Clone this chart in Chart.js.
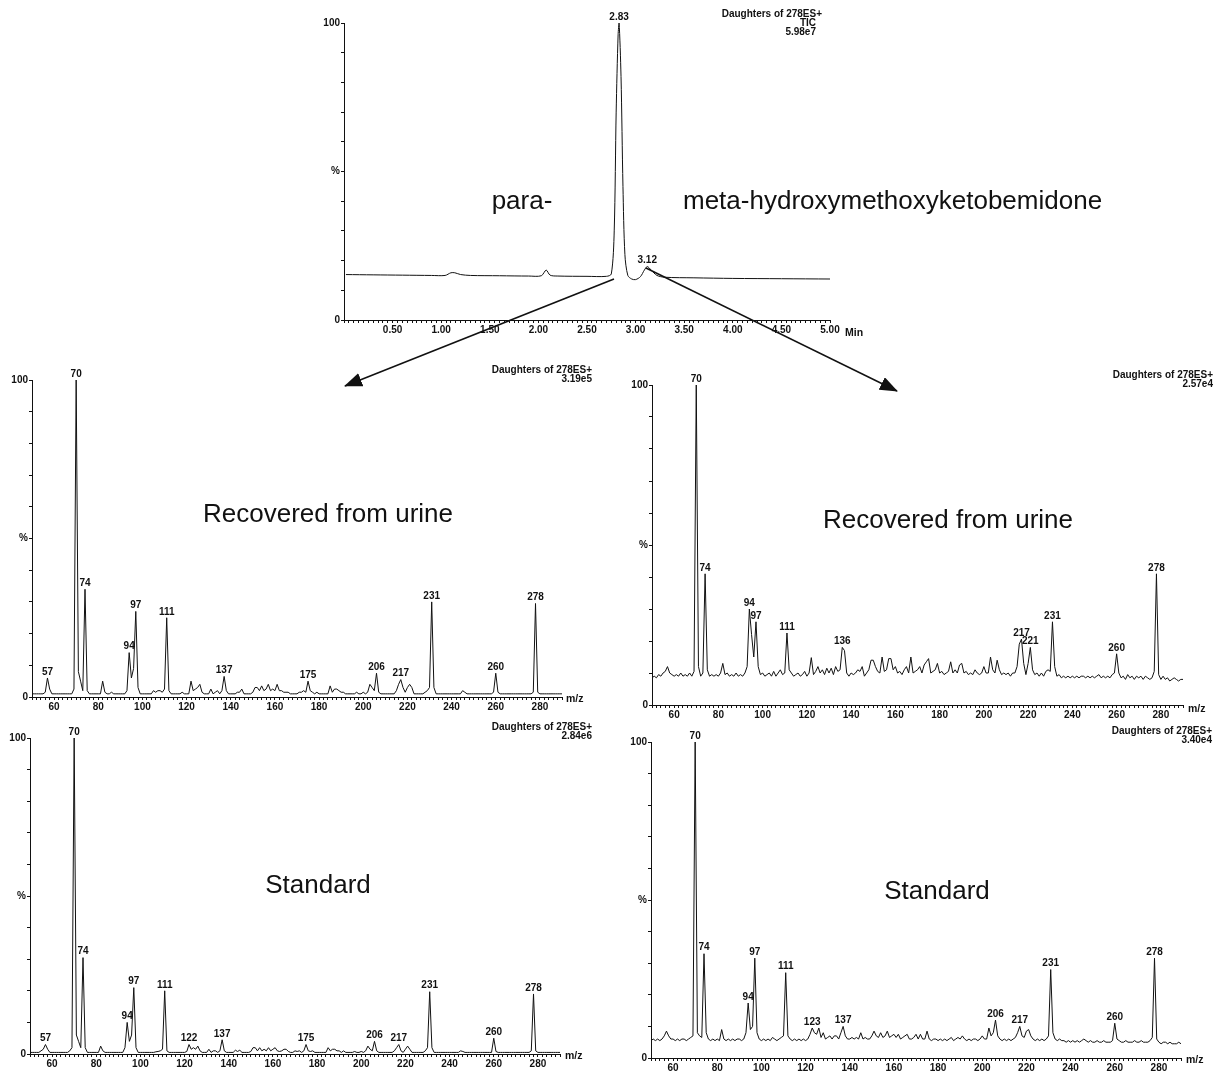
<!DOCTYPE html>
<html>
<head>
<meta charset="utf-8">
<script src="https://cdn.jsdelivr.net/npm/chart.js@4.4.1/dist/chart.umd.min.js"></script>
<style>
  body { margin: 0; background: #fff; width: 1214px; height: 1079px; position: relative; overflow: hidden;
         font-family: 'Liberation Sans', Arial, sans-serif; color: #111; }
  canvas { position: absolute; }
  .hdr { position: absolute; text-align: right; font: bold 10px/9.2px 'Liberation Sans Narrow', 'Liberation Sans', Arial, sans-serif; white-space: nowrap; }
  .hdr span { display: block; padding-right: 6px; }
  .big { position: absolute; font-size: 26px; white-space: nowrap; line-height: 1; }
  .unit { position: absolute; font: bold 10.5px 'Liberation Sans Narrow', 'Liberation Sans', Arial, sans-serif; }
  svg { position: absolute; left: 0; top: 0; }
</style>
</head>
<body>

<canvas id="tic"></canvas>
<canvas id="urinePara"></canvas>
<canvas id="urineMeta"></canvas>
<canvas id="stdPara"></canvas>
<canvas id="stdMeta"></canvas>

<div class="hdr" style="right:392px;top:9px">Daughters of 278ES+<span>TIC</span><span>5.98e7</span></div>
<div class="hdr" style="right:622px;top:365px">Daughters of 278ES+<br>3.19e5</div>
<div class="hdr" style="right:1px;top:370px">Daughters of 278ES+<br>2.57e4</div>
<div class="hdr" style="right:622px;top:722px">Daughters of 278ES+<br>2.84e6</div>
<div class="hdr" style="right:2px;top:726px">Daughters of 278ES+<br>3.40e4</div>

<div class="big" style="left:522px;top:200px;transform:translate(-50%,-50%)">para-</div>
<div class="big" style="left:683px;top:200px;transform:translateY(-50%)">meta-hydroxymethoxyketobemidone</div>
<div class="big" style="left:328px;top:513px;transform:translate(-50%,-50%)">Recovered from urine</div>
<div class="big" style="left:948px;top:519px;transform:translate(-50%,-50%)">Recovered from urine</div>
<div class="big" style="left:318px;top:884px;transform:translate(-50%,-50%)">Standard</div>
<div class="big" style="left:937px;top:890px;transform:translate(-50%,-50%)">Standard</div>

<div class="unit" style="left:845px;top:326px">Min</div>
<div class="unit" style="left:566px;top:692px">m/z</div>
<div class="unit" style="left:1188px;top:702px">m/z</div>
<div class="unit" style="left:565px;top:1049px">m/z</div>
<div class="unit" style="left:1186px;top:1053px">m/z</div>

<svg width="1214" height="1079">
  <defs>
    <marker id="ah" markerUnits="userSpaceOnUse" markerWidth="18" markerHeight="14" refX="17" refY="7" orient="auto">
      <path d="M0,0 L18,7 L0,14 z" fill="#111"/>
    </marker>
  </defs>
  <line x1="614" y1="279" x2="345" y2="386" stroke="#111" stroke-width="1.6" marker-end="url(#ah)"/>
  <line x1="646" y1="268" x2="897" y2="391" stroke="#111" stroke-width="1.6" marker-end="url(#ah)"/>
</svg>

<script>
// total ion chromatogram (time in min, % intensity)
const ticTime = [0.02, 0.3, 0.6, 0.9, 1.04, 1.1, 1.14, 1.2, 1.3, 1.6, 1.9, 2.03, 2.08, 2.12, 2.2, 2.5, 2.7, 2.75, 2.78, 2.8, 2.82, 2.83, 2.85, 2.87, 2.89, 2.92, 2.96, 3.0, 3.05, 3.09, 3.12, 3.16, 3.22, 3.3, 3.6, 4.0, 4.5, 5.0];
const ticInt  = [15.3, 15.2, 15.1, 15.0, 15.0, 15.9, 15.9, 15.3, 15.0, 14.9, 14.8, 14.9, 16.8, 15.1, 14.8, 14.7, 14.7, 15.5, 30, 70, 96, 100, 82, 45, 22, 15, 13.8, 13.6, 14.6, 16.8, 18, 16.8, 15.0, 14.4, 14.2, 14.0, 13.9, 13.8];
const ticPeaks = [2.83, 3.12];
const timeLabels = ['0.50', '1.00', '1.50', '2.00', '2.50', '3.00', '3.50', '4.00', '4.50', '5.00'];

// product ion spectra, % intensity for m/z 50..290 (one value per m/z)
const mzFirst = 50;
const mzLabels = [60, 80, 100, 120, 140, 160, 180, 200, 220, 240, 260, 280];

const urinePara = [
  1, 1, 1, 1, 1, 1, 1.5, 6, 2.5, 1,            // 50
  1, 1, 1, 1, 1, 1, 1, 1, 1, 2.5,              // 60
  100, 8, 5, 2, 34, 2, 1, 1, 1, 1,             // 70
  1, 1, 5, 1.5, 1, 1, 1.5, 1, 1, 1,            // 80
  1, 1, 1, 2, 14, 6, 9, 27, 3, 1,              // 90
  1, 1, 1, 1, 1, 2, 1.5, 2, 2, 1.5,            // 100
  2.5, 25, 2, 1, 1, 1, 1, 1, 1.5, 1,           // 110
  1, 1, 5, 2, 2.5, 3, 4, 1.5, 1, 1,            // 120
  1, 2.5, 1, 1.5, 2, 1, 2, 6.5, 2, 1,          // 130
  1, 1, 1, 1.5, 1.5, 2.5, 1, 1, 1, 1,          // 140
  1.5, 3, 3, 2, 3.5, 2, 2.5, 4, 2, 2.5,        // 150
  2, 4, 2, 2, 1.5, 1.5, 1.5, 1, 1, 1,          // 160
  1, 1.5, 1.5, 2, 1.5, 5, 2, 1.5, 1, 1.5,      // 170
  1, 1, 1, 1, 1, 3.5, 1.5, 2.5, 2.5, 2,        // 180
  1.5, 1.5, 1, 1, 1, 1, 1, 1.5, 1, 1,          // 190
  1.5, 1, 1.5, 4, 3, 2, 7.5, 1.5, 1, 1,        // 200
  1, 1, 1, 1, 1, 2, 4, 5.5, 3, 1.5,            // 210
  3, 4, 3, 1, 1, 1, 1, 1, 1.5, 2,              // 220
  3, 30, 3, 1, 1, 1, 1, 1, 1, 1,               // 230
  1, 1, 1, 1, 1, 2, 1.5, 1, 1, 1,              // 240
  1, 1, 1, 1, 1, 1, 1, 1, 1, 1.5,              // 250
  7.5, 1.5, 1, 1, 1, 1, 1, 1, 1, 1,            // 260
  1, 1, 1, 1, 1, 1, 1, 1.5, 29.5, 1.5,         // 270
  1, 1, 1, 1, 1, 1, 1, 1, 1, 1,                // 280
  1                                            // 290
];
const urineMeta = [
  8.5, 9, 8.5, 9.5, 9, 10, 10.5, 12, 10, 9.5,
  9, 9.5, 9, 10, 9, 9.5, 9, 10, 9, 10.5,
  100, 12, 9, 10, 41, 11, 9, 9.5, 9, 9.5,
  9, 10, 13, 9.5, 10, 9, 9.5, 9, 10, 9,
  9.5, 9, 10, 12, 30, 22, 15, 26, 12, 9.5,
  10, 9, 9.5, 10, 9, 10.5, 9, 10, 11, 9.5,
  10, 22.5, 11, 10, 9, 9.5, 10, 9, 9.5, 10.5,
  9, 10, 14.8, 9.5, 10.5, 12, 10, 11, 9.5, 11.5,
  10, 11.5, 9.5, 12, 10.5, 11, 18, 17, 10, 9,
  10, 9.5, 10, 11, 10.5, 12, 9, 10, 11, 14,
  14, 12, 10.5, 10, 15, 10.5, 11, 14.5, 14.5, 11,
  12, 10, 10.5, 9.5, 11, 12, 10, 15, 10, 10.5,
  11, 12, 10, 12.5, 13.5, 14.5, 10, 10.5, 11, 13,
  10, 10.5, 9.5, 10, 10.5, 13.5, 10, 11, 10, 12.5,
  13, 10, 10.5, 9.5, 10, 9.5, 11, 10, 9.5, 10,
  12, 10, 10, 15, 11, 10, 14, 11, 9.5, 10,
  9.5, 10, 9, 10, 10, 12, 19, 20.6, 13, 9.5,
  13, 18, 11, 9.5, 10, 9, 10, 9, 10.5, 11,
  10.5, 26, 12, 9, 9.5, 8.5, 9, 8.5, 9, 8.5,
  9, 8.5, 9, 8.5, 9, 9, 8.5, 9, 8.5, 9,
  8.5, 9, 9.5, 8.5, 9, 8.5, 9, 8.5, 9.5, 10,
  16, 10, 8.5, 9, 8, 9.5, 8.5, 9, 8, 9,
  8.5, 9, 8, 9, 8.5, 8, 8.5, 10.5, 41, 9.5,
  8, 9, 8, 8.5, 7.5, 8, 8.5, 8, 7.5, 8,
  8
];
const stdPara = [
  0.5, 0.5, 0.5, 0.5, 0.5, 1, 1.5, 3, 1.5, 0.5,
  0.5, 0.5, 0.5, 0.5, 0.5, 0.5, 0.5, 0.5, 1, 2,
  100, 6, 4, 2, 30.5, 2, 0.5, 0.5, 0.5, 0.5,
  0.5, 0.5, 2.5, 1, 0.5, 0.5, 0.5, 0.5, 0.5, 0.5,
  0.5, 0.5, 0.5, 2, 10, 4, 6, 21, 2, 0.5,
  0.5, 0.5, 0.5, 0.5, 0.5, 0.5, 0.5, 0.7, 0.8, 1,
  1.5, 20, 1, 0.5, 0.5, 0.5, 0.5, 0.5, 0.5, 0.5,
  0.5, 0.8, 3, 1.5, 2, 1.5, 2.5, 1, 0.5, 0.5,
  0.5, 1.5, 0.5, 1, 1, 0.5, 1, 4.5, 1, 0.5,
  0.5, 0.5, 0.5, 1.2, 0.8, 1.2, 0.5, 0.5, 0.5, 0.5,
  0.8, 2, 2, 1, 2, 1, 1.5, 1, 2, 1,
  1.5, 2, 1, 0.8, 1, 1.5, 1.5, 0.8, 0.5, 0.5,
  1, 0.8, 1, 0.5, 1, 3, 1, 0.8, 1, 0.5,
  0.5, 0.5, 0.5, 0.5, 0.5, 2, 1, 1.5, 1.5, 1,
  1, 0.5, 1, 0.5, 0.5, 0.5, 0.5, 0.8, 0.5, 0.5,
  0.8, 0.5, 1, 2.5, 1.5, 1, 4, 1, 0.5, 0.5,
  0.5, 0.5, 0.5, 0.5, 0.5, 1, 2, 3, 1, 0.5,
  1.5, 2.5, 1.5, 0.5, 0.5, 0.5, 0.5, 0.5, 0.5, 1,
  2, 19.7, 2, 0.5, 0.5, 0.5, 0.5, 0.5, 0.5, 0.5,
  0.5, 0.5, 0.5, 0.5, 0.5, 1, 0.8, 0.5, 0.5, 0.5,
  0.5, 0.5, 0.5, 0.5, 0.5, 0.5, 0.5, 0.5, 0.5, 0.5,
  5, 0.8, 0.5, 0.5, 0.5, 0.5, 0.5, 0.5, 0.5, 0.5,
  0.5, 0.5, 0.5, 0.5, 0.5, 0.5, 0.5, 1, 19, 1,
  0.5, 0.5, 0.5, 0.5, 0.5, 0.5, 0.5, 0.5, 0.5, 0.5,
  0.5
];
const stdMeta = [
  5.5, 6, 5.5, 6, 5.5, 6, 7, 8.5, 7, 6,
  6, 5.5, 6, 5.5, 6, 6, 5.5, 6, 6.5, 7,
  100, 8, 7, 6.5, 33, 8, 6, 5.5, 6, 5.5,
  6, 5.5, 9, 6, 5.5, 6, 5.5, 6, 5.5, 6,
  6, 5.5, 6, 8, 17.4, 9, 10, 31.6, 8, 6,
  5.5, 6, 5.5, 6, 5.5, 6.5, 6, 5.5, 6, 6.5,
  7, 27, 7, 6, 5.5, 6, 5.5, 6, 5.5, 6,
  5.5, 6, 7.5, 9.5, 8, 7.5, 9.5, 6.5, 8, 6,
  6.5, 7, 6, 7, 7, 6, 8, 10, 7, 6,
  6, 6.5, 6, 6.5, 6, 8, 6, 6.5, 6, 6,
  7, 8.5, 7, 6.5, 8, 6.5, 7, 8.5, 6.5, 7,
  7.5, 6.5, 7.5, 6, 6.5, 7, 7.5, 6, 6, 6.5,
  7.5, 6, 7.5, 6, 6, 8.5, 6, 5.5, 6, 6,
  5.5, 6, 5.5, 6, 5.5, 6, 6.5, 5.5, 6, 6.5,
  6, 7, 6, 5.5, 6, 5.5, 6, 6, 5.5, 6,
  7, 6, 6, 9.5, 7, 8, 12, 7, 6, 5.5,
  6, 5.5, 6, 5.5, 6, 6.5, 8, 10, 7, 6.5,
  8.5, 9, 7, 6, 5.5, 6, 5.5, 6, 5.5, 6,
  7, 28, 8, 6, 5.5, 6, 5.5, 5.5, 5, 5.5,
  5, 5.5, 5, 5.5, 5, 5.5, 6, 5.5, 5, 5.5,
  5, 5, 5.5, 5, 5, 5.5, 5, 5, 5, 5.5,
  11, 6, 5.5, 5, 5, 5.5, 5, 5, 5, 5.5,
  5, 5, 5.5, 5, 5, 5, 5.5, 6.5, 31.6, 6,
  5, 4.5, 5, 5, 4.5, 5, 4.5, 4.5, 4.5, 5,
  4.5
];

// labelled peaks (m/z)
const urineParaMarks = [57, 70, 74, 94, 97, 111, 137, 175, 206, 217, 231, 260, 278];
const urineMetaMarks = [70, 74, 94, 97, 111, 136, 217, 221, 231, 260, 278];
const stdParaMarks = [57, 70, 74, 94, 97, 111, 122, 137, 175, 206, 217, 231, 260, 278];
const stdMetaMarks = [70, 74, 94, 97, 111, 123, 137, 206, 217, 231, 260, 278];

const ink = '#111';
const smallFont = { family: "'Liberation Sans Narrow', 'Liberation Sans', Arial, sans-serif", size: 10, weight: 'bold' };

// plot areas in page pixels: left, top, right, bottom
const panels = {
  tic:       { l: 344, t: 23,  r: 830,  b: 320 },
  urinePara: { l: 32,  t: 380, r: 562,  b: 697 },
  urineMeta: { l: 652, t: 385, r: 1183, b: 705 },
  stdPara:   { l: 30,  t: 738, r: 560,  b: 1054 },
  stdMeta:   { l: 651, t: 742, r: 1181, b: 1058 }
};
const PAD_T = 14, PAD_R = 22, Y_W = 30, X_H = 22;

const peakLabels = {
  id: 'peakLabels',
  afterDatasetsDraw(chart, args, opts) {
    const { ctx, scales: { x, y } } = chart;
    const pts = chart.data.datasets[0].data;
    ctx.save();
    ctx.font = 'bold 10px ' + smallFont.family;
    ctx.fillStyle = ink;
    ctx.textAlign = 'center';
    ctx.textBaseline = 'bottom';
    opts.marks.forEach(m => {
      const p = pts.find(d => Math.abs(d.x - m) < 1e-9);
      if (!p) return;
      const txt = opts.decimals ? m.toFixed(opts.decimals) : String(m);
      ctx.fillText(txt, x.getPixelForValue(m), y.getPixelForValue(p.y) - 1);
    });
    ctx.restore();
  }
};

function place(id) {
  const a = panels[id];
  const c = document.getElementById(id);
  c.width = a.r - a.l + Y_W + PAD_R;
  c.height = a.b - a.t + PAD_T + X_H;
  c.style.left = (a.l - Y_W) + 'px';
  c.style.top = (a.t - PAD_T) + 'px';
  return c;
}

function axisY() {
  return {
    min: 0, max: 100,
    afterFit: s => { s.width = Y_W; },
    border: { color: ink, width: 1 },
    grid: { drawOnChartArea: false, drawTicks: true, tickLength: 3, color: ink },
    ticks: {
      stepSize: 10, autoSkip: false, padding: 1, color: ink, font: smallFont,
      callback: v => v === 100 ? '100' : v === 50 ? '%' : v === 0 ? '0' : ''
    }
  };
}

function baseOptions(xScale, plugOpts) {
  return {
    responsive: false,
    animation: false,
    layout: { padding: { top: PAD_T, right: PAD_R, left: 0, bottom: 0 } },
    plugins: { legend: { display: false }, tooltip: { enabled: false }, peakLabels: plugOpts },
    scales: { x: xScale, y: axisY() }
  };
}

// chromatogram
new Chart(place('tic'), {
  type: 'line',
  data: {
    datasets: [{
      data: ticTime.map((t, i) => ({ x: t, y: ticInt[i] })),
      borderColor: ink, borderWidth: 1, pointRadius: 0, tension: 0.3, fill: false
    }]
  },
  options: baseOptions({
    type: 'linear', min: 0, max: 5,
    afterFit: s => { s.height = X_H; },
    border: { color: ink, width: 1 },
    grid: { drawOnChartArea: false, drawTicks: true, tickLength: 3, color: ink },
    ticks: {
      stepSize: 0.05, autoSkip: false, maxRotation: 0, padding: 1, color: ink, font: smallFont,
      callback: v => {
        const s = Number(v).toFixed(2);
        return timeLabels.includes(s) ? s : '';
      }
    }
  }, { marks: ticPeaks, decimals: 2 }),
  plugins: [peakLabels]
});

function spectrum(id, values, marks) {
  new Chart(place(id), {
    type: 'line',
    data: {
      datasets: [{
        data: values.map((v, i) => ({ x: mzFirst + i, y: v })),
        borderColor: ink, borderWidth: 1, pointRadius: 0, tension: 0, fill: false
      }]
    },
    options: baseOptions({
      type: 'linear', min: 50, max: 290,
      afterFit: s => { s.height = X_H; },
      border: { color: ink, width: 1 },
      grid: { drawOnChartArea: false, drawTicks: true, tickLength: 3, color: ink },
      ticks: {
        stepSize: 2, autoSkip: false, maxRotation: 0, padding: 1, color: ink, font: smallFont,
        callback: v => mzLabels.includes(v) ? String(v) : ''
      }
    }, { marks: marks }),
    plugins: [peakLabels]
  });
}

spectrum('urinePara', urinePara, urineParaMarks);
spectrum('urineMeta', urineMeta, urineMetaMarks);
spectrum('stdPara', stdPara, stdParaMarks);
spectrum('stdMeta', stdMeta, stdMetaMarks);
</script>
</body>
</html>
